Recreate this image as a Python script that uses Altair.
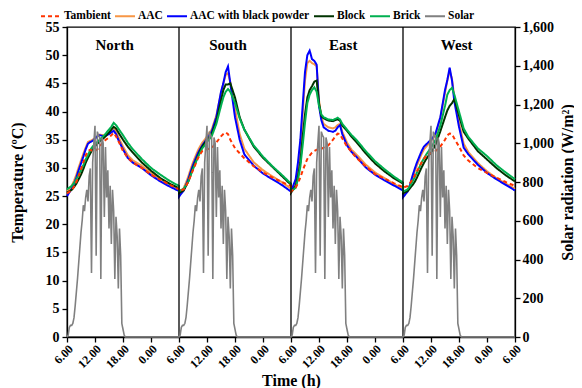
import json
import altair as alt
import pandas as pd

PANELS = ["North", "South", "East", "West"]
SERIES = ["Tambient", "AAC", "AAC with black powder", "Block", "Brick", "Solar"]
COLORS = ["#FF3300", "#F79646", "#0000FF", "#003300", "#00B050", "#808080"]
DASHES = [[4, 3], [1, 0], [1, 0], [1, 0], [1, 0], [1, 0]]
X_TICK_LABELS = ["6.00", "12.00", "18.00", "0.00"]

# hours after 6.00 within each panel
HOURS = [0, 1, 1.5, 2, 2.5, 3, 3.5, 4, 4.5, 5, 5.5, 6, 6.5, 7, 8, 9, 9.5, 10, 10.5, 11, 12, 13, 14, 16, 18, 20, 22, 24]

NORTH_TAMB = [25.5, 26.0, 26.7, 27.5, 28.6, 29.8, 31.0, 32.2, 33.0, 33.2, 33.0, 33.0, 33.3, 33.8, 34.8, 35.4, 35.8, 36.2, 35.6, 34.8, 33.0, 31.8, 31.0, 30.0, 28.8, 27.9, 27.0, 26.2]
NORTH_AAC = [25.8, 26.8, 27.7, 28.8, 30.1, 31.3, 32.5, 33.6, 34.6, 34.8, 35.0, 35.3, 35.6, 35.9, 35.8, 36.3, 36.7, 37.2, 36.4, 35.5, 33.8, 32.3, 31.4, 30.4, 29.1, 28.0, 27.1, 26.3]
NORTH_AACB = [25.0, 26.3, 27.2, 28.3, 29.6, 30.8, 32.0, 33.3, 34.3, 34.6, 34.8, 35.2, 35.6, 35.8, 35.6, 36.0, 36.3, 36.6, 36.0, 35.0, 33.3, 31.8, 31.0, 30.0, 28.7, 27.6, 26.7, 25.9]
NORTH_BLOCK = [25.6, 26.1, 26.6, 27.2, 28.0, 28.8, 29.8, 30.9, 31.8, 32.6, 33.3, 33.8, 34.3, 34.7, 35.4, 36.3, 36.8, 37.3, 37.0, 36.3, 35.0, 33.8, 32.8, 31.0, 29.5, 28.2, 27.2, 26.4]
NORTH_BRICK = [26.2, 26.8, 27.3, 28.0, 28.8, 29.6, 30.5, 31.5, 32.3, 33.2, 33.8, 34.2, 34.6, 35.0, 35.8, 36.8, 37.3, 38.0, 37.6, 37.0, 35.8, 34.5, 33.4, 31.6, 30.0, 28.8, 27.7, 26.8]

SOUTH_TAMB = [25.9, 26.2, 26.8, 27.6, 28.6, 29.6, 30.6, 31.6, 32.4, 33.0, 33.2, 33.3, 33.4, 33.5, 34.5, 35.6, 36.0, 36.3, 36.0, 35.0, 33.5, 32.6, 31.7, 30.3, 29.2, 28.3, 27.5, 26.8]
SOUTH_AAC = [25.4, 26.4, 27.4, 28.5, 29.8, 31.0, 32.0, 33.0, 33.8, 34.5, 35.0, 35.6, 36.2, 36.8, 39.3, 43.3, 45.0, 46.5, 46.8, 45.2, 40.5, 36.0, 33.4, 31.0, 29.6, 28.5, 27.5, 26.3]
SOUTH_AACB = [24.9, 26.0, 27.0, 28.0, 29.3, 30.5, 31.5, 32.5, 33.3, 34.0, 34.6, 35.2, 35.8, 36.4, 39.0, 43.5, 45.0, 47.0, 48.0, 45.0, 39.0, 35.0, 32.4, 30.4, 29.0, 28.0, 27.0, 25.8]
SOUTH_BLOCK = [25.5, 26.0, 26.8, 27.6, 28.8, 30.0, 31.0, 32.0, 33.0, 33.8, 34.4, 35.0, 35.5, 36.0, 38.3, 42.0, 43.8, 44.8, 44.8, 45.0, 42.5, 39.0, 36.8, 33.8, 31.8, 30.2, 28.6, 27.0]
SOUTH_BRICK = [25.9, 26.3, 26.9, 27.6, 28.7, 29.8, 30.8, 31.8, 32.7, 33.5, 34.0, 34.6, 35.1, 35.6, 37.8, 41.0, 42.5, 43.5, 44.0, 43.5, 41.5, 38.8, 36.8, 34.0, 32.0, 30.3, 28.8, 27.2]

EAST_TAMB = [25.8, 26.5, 27.3, 28.3, 29.5, 30.6, 31.6, 32.2, 32.7, 33.0, 33.2, 33.2, 33.4, 33.6, 34.0, 35.0, 35.6, 36.1, 36.0, 35.2, 33.8, 32.8, 31.8, 30.3, 28.9, 28.1, 27.3, 26.6]
EAST_AAC = [25.8, 27.5, 30.0, 33.8, 39.5, 45.5, 48.6, 49.0, 48.6, 48.4, 48.0, 42.0, 39.0, 37.8, 37.2, 37.0, 37.2, 37.6, 37.8, 36.4, 34.5, 33.2, 32.4, 30.6, 29.2, 28.2, 27.2, 26.3]
EAST_AACB = [25.8, 28.0, 31.0, 35.0, 41.0, 47.0, 50.0, 50.8, 49.3, 49.0, 48.3, 41.0, 38.5, 37.2, 36.6, 36.4, 36.6, 37.2, 37.6, 36.0, 34.0, 32.8, 32.0, 30.1, 28.8, 27.8, 26.9, 26.0]
EAST_BLOCK = [25.6, 26.8, 28.5, 31.0, 35.5, 39.5, 42.5, 43.8, 44.5, 45.3, 45.5, 41.5, 39.2, 38.8, 38.4, 38.3, 38.5, 38.6, 38.4, 37.5, 36.6, 35.5, 34.6, 32.6, 30.8, 29.4, 28.2, 27.2]
EAST_BRICK = [25.8, 26.5, 28.0, 30.2, 34.0, 38.0, 41.5, 43.0, 43.8, 44.3, 43.5, 41.0, 39.5, 39.0, 38.6, 38.5, 38.7, 38.9, 38.6, 37.8, 36.8, 35.8, 35.0, 33.0, 31.2, 29.8, 28.5, 27.4]

WEST_TAMB = [26.5, 26.8, 27.3, 27.9, 28.6, 29.4, 30.2, 31.0, 31.6, 32.2, 32.5, 32.6, 32.8, 33.0, 33.8, 35.0, 35.8, 36.1, 36.0, 35.2, 33.8, 32.2, 31.3, 30.0, 29.1, 28.3, 27.5, 26.8]
WEST_AAC = [25.2, 26.0, 27.0, 28.2, 29.3, 30.5, 31.5, 32.5, 33.3, 33.8, 34.3, 34.8, 35.3, 35.9, 38.8, 43.3, 45.5, 47.2, 45.8, 42.5, 38.0, 34.3, 32.8, 30.9, 29.4, 28.2, 27.2, 26.3]
WEST_AACB = [24.8, 25.8, 27.0, 28.5, 29.8, 31.0, 32.0, 33.0, 33.8, 34.2, 34.6, 35.0, 35.5, 36.2, 39.0, 43.8, 45.6, 47.8, 45.5, 41.8, 37.3, 33.6, 32.4, 30.6, 29.1, 28.0, 27.0, 26.0]
WEST_BLOCK = [25.5, 25.9, 26.4, 26.9, 27.5, 28.3, 29.2, 30.1, 30.9, 31.6, 32.2, 32.7, 33.4, 34.2, 36.5, 39.0, 40.2, 41.0, 41.5, 42.2, 39.3, 36.4, 35.2, 33.0, 31.5, 30.0, 28.7, 27.6]
WEST_BRICK = [25.8, 26.2, 26.8, 27.5, 28.3, 29.2, 30.1, 31.0, 31.7, 32.4, 33.0, 33.6, 34.3, 35.0, 37.5, 41.0, 43.0, 43.8, 44.2, 43.0, 40.0, 37.0, 35.5, 33.5, 32.1, 30.5, 29.2, 28.0]

SOLAR_HOURS = [0, 0.25, 0.5, 0.75, 1, 1.25, 1.5, 1.75, 2, 2.25, 2.5, 2.75, 3, 3.25, 3.5, 3.75,
               4, 4.25, 4.5, 4.75, 5, 5.25, 5.5, 5.75, 6, 6.25, 6.5, 6.75, 7, 7.25, 7.5, 7.75,
               8, 8.25, 8.5, 8.75, 9, 9.25, 9.5, 9.75, 10, 10.25, 10.5, 10.75, 11, 11.25, 11.5, 11.75,
               12, 12.25, 12.5, 24]
SOLAR_VALUES = [0, 10, 50, 60, 60, 70, 100, 160, 230, 300, 380, 460, 540, 600, 680, 650,
                720, 760, 700, 830, 870, 330, 900, 1000, 1090, 420, 1060, 1040, 1030, 300, 1030, 1000,
                620, 980, 720, 860, 560, 780, 480, 760, 650, 300, 620, 520, 250, 560, 420, 70,
                40, 10, 0, 0]

PANEL_LABEL_HOURS = [10.2, 10.5, 11.2, 11.5]
PANEL_LABEL_TEMP = 51.8

TEMPS = {
    "North": [NORTH_TAMB, NORTH_AAC, NORTH_AACB, NORTH_BLOCK, NORTH_BRICK],
    "South": [SOUTH_TAMB, SOUTH_AAC, SOUTH_AACB, SOUTH_BLOCK, SOUTH_BRICK],
    "East": [EAST_TAMB, EAST_AAC, EAST_AACB, EAST_BLOCK, EAST_BRICK],
    "West": [WEST_TAMB, WEST_AAC, WEST_AACB, WEST_BLOCK, WEST_BRICK],
}

rows = []
for p, panel in enumerate(PANELS):
    for s, vals in enumerate(TEMPS[panel]):
        for i, (h, v) in enumerate(zip(HOURS, vals)):
            rows.append({"t": p * 24 + h, "T": v, "series": SERIES[s], "order": p * 100 + i})
temp_df = pd.DataFrame(rows)

srows = []
for p, panel in enumerate(PANELS):
    for i, (h, v) in enumerate(zip(SOLAR_HOURS, SOLAR_VALUES)):
        srows.append({"t": p * 24 + h, "S": v, "series": "Solar", "order": p * 100 + i})
solar_df = pd.DataFrame(srows)

label_df = pd.DataFrame({"t": [p * 24 + h for p, h in enumerate(PANEL_LABEL_HOURS)],
                         "T": [PANEL_LABEL_TEMP] * 4, "name": PANELS})
sep_df = pd.DataFrame({"t": [24, 48, 72]})

FONT = "Liberation Serif"

label_expr = json.dumps(X_TICK_LABELS) + "[round(datum.value / 6) % 4]"
x_enc = alt.X("t:Q", scale=alt.Scale(domain=[0, 96], nice=False, zero=False),
              axis=alt.Axis(values=list(range(0, 97, 6)), labelExpr=label_expr, labelAngle=-45,
                            labelAlign="right", labelBaseline="top", labelPadding=1,
                            labelOverlap=False, title="Time (h)", titleY=43,
                            titleBaseline="middle", labelFontSize=12, tickSize=5))

y_temp_scale = alt.Scale(domain=[0, 55], nice=False)
y_temp_axis = alt.Axis(values=list(range(0, 56, 5)), title="Temperature (ºC)", titleX=-50,
                       titleY=155, titleAlign="center", titleBaseline="middle", tickSize=5,
                       labelPadding=3, labelOverlap=False)
color_enc = alt.Color("series:N", scale=alt.Scale(domain=SERIES, range=COLORS),
                      legend=alt.Legend(title=None, orient="none", legendX=-27, legendY=-22,
                                        direction="horizontal", columns=6, symbolType="stroke",
                                        symbolSize=400, symbolStrokeWidth=2, labelFont=FONT,
                                        labelFontSize=11.5, labelFontWeight="bold", labelOffset=2,
                                        columnPadding=0, symbolLimit=0))
dash_enc = alt.StrokeDash("series:N", scale=alt.Scale(domain=SERIES, range=DASHES), legend=None)

draw_order = ["AAC", "AAC with black powder", "Block", "Brick", "Tambient"]
temp_layers = []
for name in draw_order:
    temp_layers.append(
        alt.Chart(temp_df).transform_filter(alt.datum.series == name)
        .mark_line(strokeWidth=2)
        .encode(x=x_enc,
                y=alt.Y("T:Q", scale=y_temp_scale, axis=y_temp_axis),
                color=color_enc, strokeDash=dash_enc, order="order:Q")
    )

seps = alt.Chart(sep_df).mark_rule(color="black", strokeWidth=1.3).encode(x=x_enc)
labels = alt.Chart(label_df).mark_text(font=FONT, fontWeight="bold", fontSize=15,
                                       baseline="middle", align="center", color="black").encode(
    x=x_enc, y=alt.Y("T:Q", scale=y_temp_scale, axis=y_temp_axis), text="name:N")

temp_chart = alt.layer(*temp_layers, seps, labels)

solar = alt.Chart(solar_df).mark_line(strokeWidth=1.6).encode(
    x=x_enc,
    y=alt.Y("S:Q", scale=alt.Scale(domain=[0, 1600], nice=False),
            axis=alt.Axis(orient="right", values=list(range(0, 1601, 200)), format=",.0f",
                          title="Solar radiation (W/m²)", titleX=52, titleY=155,
                          titleAngle=270, titleAlign="center", titleBaseline="middle",
                          tickSize=5, labelPadding=2, labelOverlap=False)),
    color=color_enc, strokeDash=dash_enc, order="order:Q")

chart = (
    alt.layer(temp_chart, solar)
    .resolve_scale(y="independent")
    .properties(width=448, height=310,
                autosize=alt.AutoSizeParams(type="none"),
                padding={"left": 59, "top": 19, "right": 59, "bottom": 52},
                background="white")
    .configure_view(stroke="black", strokeWidth=1.3)
    .configure_axis(grid=False, domainColor="black", tickColor="black", labelColor="black",
                    labelFont=FONT, labelFontWeight="bold", labelFontSize=14,
                    titleFont=FONT, titleFontWeight="bold", titleFontSize=16, titleColor="black",
                    domainWidth=1.3, tickWidth=1.3)
)

chart.save("out.html", embed_options={"renderer": "svg", "actions": False})
